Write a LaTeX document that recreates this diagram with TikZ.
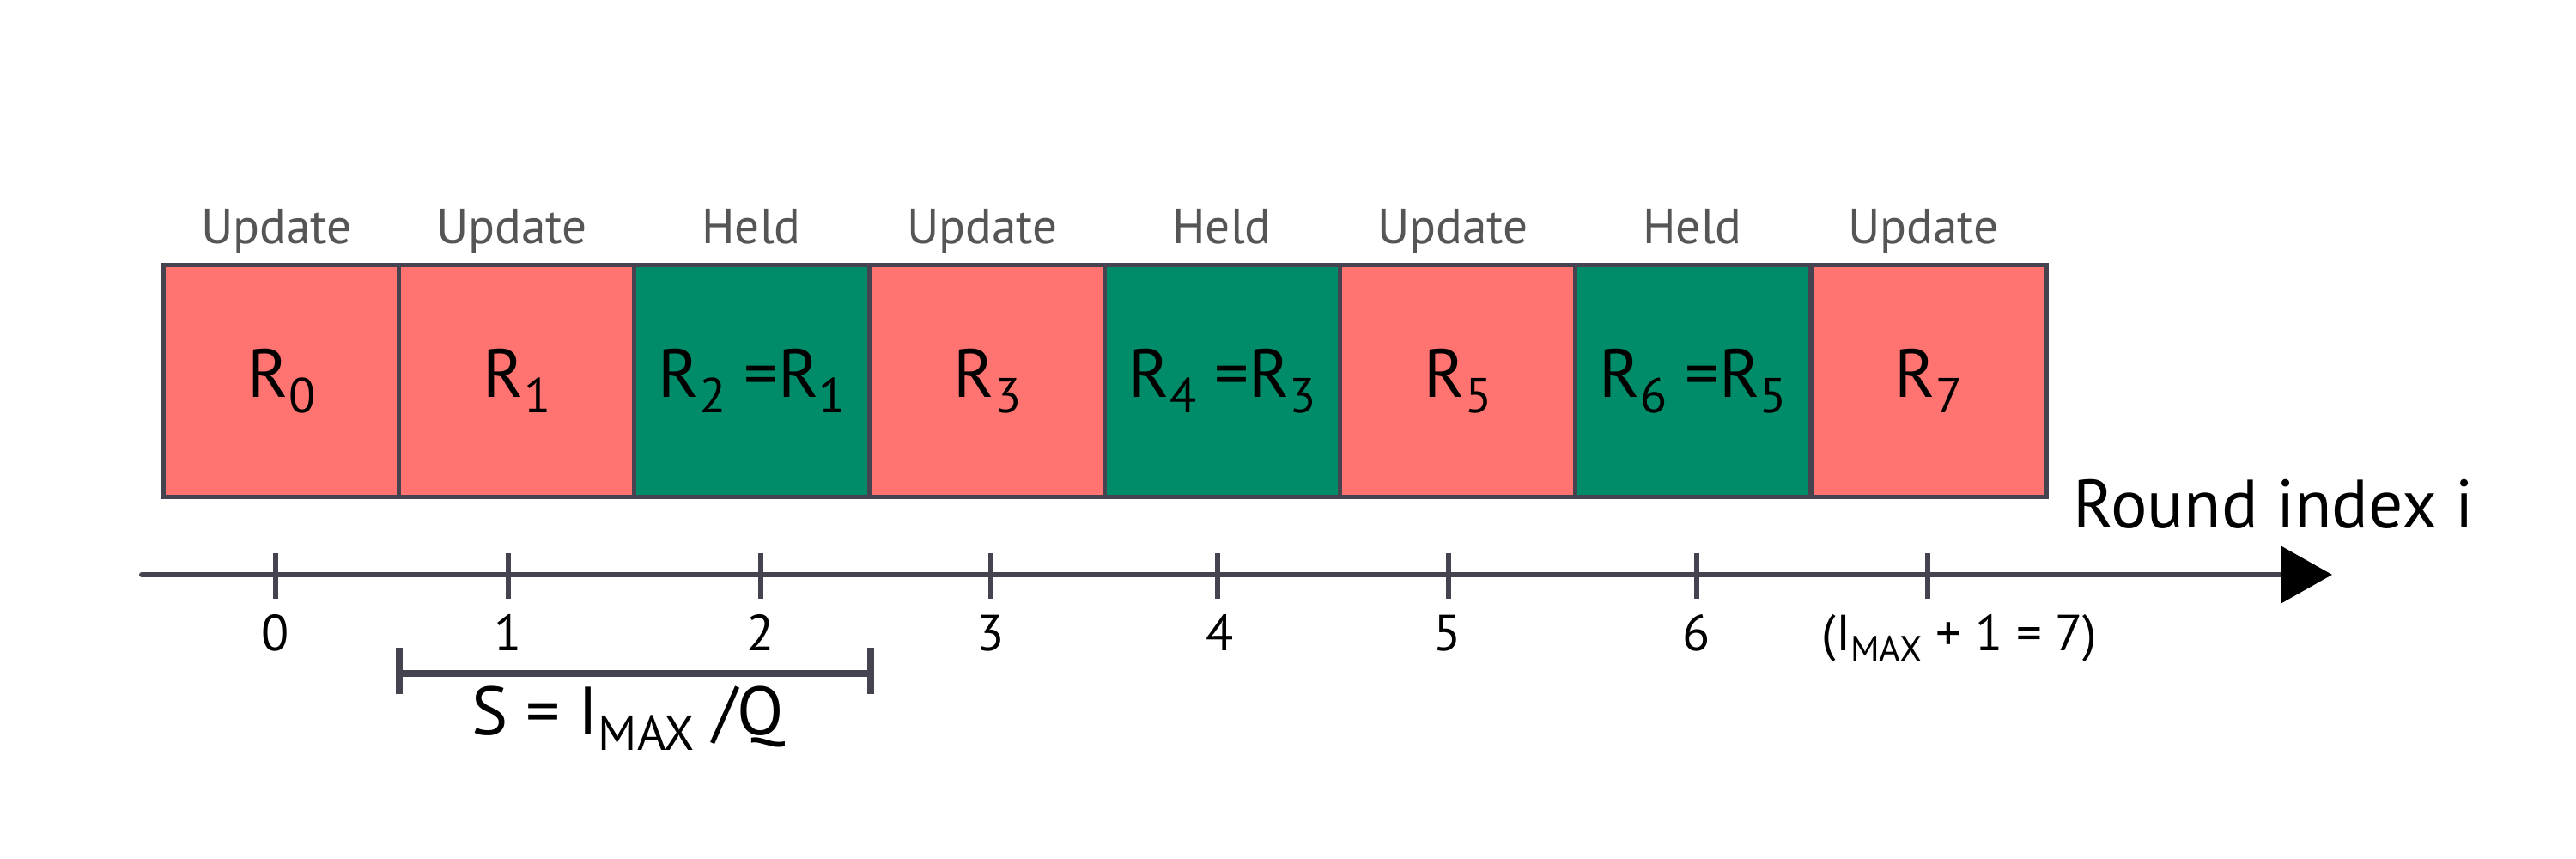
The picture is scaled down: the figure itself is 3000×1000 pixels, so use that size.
\documentclass[tikz,border=0pt]{standalone}
\usepackage{fontspec}
\setmainfont{PT Sans}
\usepackage{graphicx}
\usetikzlibrary{arrows.meta}
\definecolor{pinkbox}{RGB}{255,115,112}
\definecolor{greenbox}{RGB}{0,139,105}
\definecolor{edgegray}{RGB}{69,67,80}
\definecolor{labgray}{RGB}{85,85,85}
\newcommand\lowidx[1]{\raisebox{-0.23em}{\scalebox{0.72}{#1}}}
\begin{document}
\begin{tikzpicture}[x=0.01cm,y=-0.01cm,
  cell/.style={draw=edgegray,line width=1.45pt,minimum width=2.74cm,minimum height=2.70cm,
    inner sep=0pt,outer sep=0pt,font=\fontsize{22.6}{26}\selectfont},
  upd/.style={cell,fill=pinkbox},
  hld/.style={cell,fill=greenbox},
  toplab/.style={anchor=base,inner sep=0pt,text=labgray,font=\fontsize{16.3}{19}\selectfont},
  ticklab/.style={anchor=base,inner sep=0pt,font=\fontsize{16.8}{19}\selectfont},
  tickmark/.style={draw=edgegray,line width=1.6pt},
  axisline/.style={draw=edgegray,line width=1.7pt,line cap=round},
  bracket/.style={draw=edgegray,line width=2pt},
  biglab/.style={anchor=base,inner sep=0pt,font=\fontsize{22.6}{26}\selectfont}]
\useasboundingbox (0,0) rectangle (3000,1000);
% boxes
\node[upd] (b0) at (328,443.5) {R\lowidx{0}};
\node[upd] (b1) at (602,443.5) {R\lowidx{1}};
\node[hld] (b2) at (876,443.5) {R\lowidx{2} =R\lowidx{1}};
\node[upd] (b3) at (1150,443.5) {R\lowidx{3}};
\node[hld] (b4) at (1424,443.5) {R\lowidx{4} =R\lowidx{3}};
\node[upd] (b5) at (1698,443.5) {R\lowidx{5}};
\node[hld] (b6) at (1972,443.5) {R\lowidx{6} =R\lowidx{5}};
\node[upd] (b7) at (2246,443.5) {R\lowidx{7}};
% top labels
\node[toplab] (t0) at (322,283) {Update};
\node[toplab] (t1) at (596,283) {Update};
\node[toplab] (t2) at (875,283) {Held};
\node[toplab] (t3) at (1144,283) {Update};
\node[toplab] (t4) at (1423,283) {Held};
\node[toplab] (t5) at (1692,283) {Update};
\node[toplab] (t6) at (1971,283) {Held};
\node[toplab] (t7) at (2240,283) {Update};
% axis
\coordinate (axs) at (165,669);
\coordinate (axe) at (2716,669);
\draw[axisline,-{Triangle[length=0.6cm,width=0.66cm,color=black]}] (axs) -- (axe);
\node[biglab,anchor=base west] (axlab) at (2414,614) {Round index i};
% ticks
\foreach \n/\x in {0/321,1/592,2/886,3/1154,4/1418,5/1687,6/1976,7/2245}{
  \coordinate (tk\n) at (\x,669);
  \draw[tickmark] (\x,644) -- (\x,697);
}
\node[ticklab] (l0) at (321,757) {0};
\node[ticklab] (l1) at (592,757) {1};
\node[ticklab] (l2) at (886,757) {2};
\node[ticklab] (l3) at (1154,757) {3};
\node[ticklab] (l4) at (1421,757) {4};
\node[ticklab] (l5) at (1686,757) {5};
\node[ticklab] (l6) at (1976,757) {6};
\node[ticklab] (l7) at (2282,757) {(I\lowidx{MAX} + 1 = 7)};
% bracket
\coordinate (sL) at (465,784);
\coordinate (sR) at (1014,784);
\draw[bracket] (sL) -- (sR);
\draw[bracket] ([yshift=0.3cm]sL) -- ([yshift=-0.24cm]sL);
\draw[bracket] ([yshift=0.3cm]sR) -- ([yshift=-0.24cm]sR);
\node[biglab] (slab) at (731,855) {S = I\lowidx{MAX} /Q};
\end{tikzpicture}
\end{document}
